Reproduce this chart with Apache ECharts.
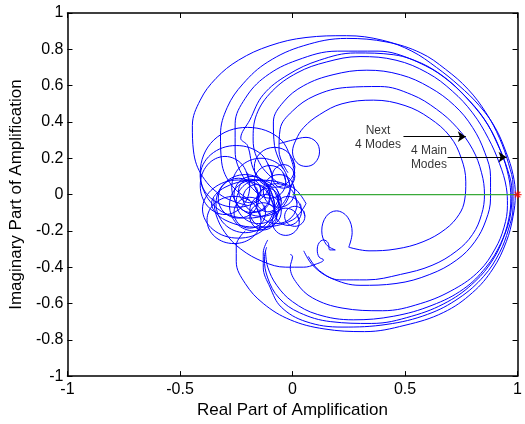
<!DOCTYPE html>
<html><head><meta charset="utf-8">
<script src="https://cdn.jsdelivr.net/npm/echarts/dist/echarts.min.js"></script>
<style>html,body{margin:0;padding:0;background:#fff}#c{width:525px;height:424px}</style>
</head><body><div id="c"></div>
<script>
// axis ranges
const xRange = [-1, 1, 0.5];
const yRange = [-1, 1, 0.2];

// big loops (real, imag)
const L1 = [[-0.20,-0.06],[-0.31,-0.01],[-0.40,0.10],[-0.44,0.24],[-0.445,0.38],[-0.41,0.52],[-0.34,0.64],[-0.24,0.74],[-0.10,0.82],[0.06,0.865],[0.24,0.875],[0.40,0.85],[0.53,0.79],[0.64,0.70],[0.74,0.60],[0.83,0.49],[0.90,0.37],[0.95,0.23],[0.98,0.11],[0.99,0.0],[0.98,-0.12],[0.95,-0.26],[0.89,-0.41],[0.80,-0.54],[0.67,-0.65],[0.50,-0.72],[0.32,-0.755],[0.14,-0.74],[-0.01,-0.69],[-0.13,-0.60],[-0.21,-0.49],[-0.25,-0.37],[-0.25,-0.28],[-0.21,-0.2]];
const L2 = [[-0.19,-0.03],[-0.27,0.05],[-0.315,0.18],[-0.32,0.33],[-0.29,0.48],[-0.22,0.61],[-0.11,0.73],[0.05,0.82],[0.24,0.86],[0.42,0.84],[0.57,0.78],[0.68,0.69],[0.78,0.58],[0.86,0.45],[0.92,0.31],[0.96,0.17],[0.98,0.05],[0.98,-0.07],[0.96,-0.19],[0.92,-0.32],[0.85,-0.45],[0.74,-0.57],[0.60,-0.66],[0.42,-0.715],[0.22,-0.73],[0.06,-0.70],[-0.05,-0.62],[-0.10,-0.51],[-0.13,-0.40],[-0.13,-0.32],[-0.11,-0.25]];
const L3 = [[-0.15,0.0],[-0.22,0.10],[-0.255,0.24],[-0.255,0.39],[-0.21,0.53],[-0.12,0.65],[0.02,0.74],[0.20,0.79],[0.38,0.79],[0.54,0.74],[0.66,0.66],[0.76,0.55],[0.85,0.42],[0.91,0.28],[0.955,0.14],[0.975,0.02],[0.97,-0.10],[0.94,-0.23],[0.89,-0.36],[0.81,-0.48],[0.69,-0.59],[0.53,-0.67],[0.35,-0.71],[0.17,-0.70],[0.03,-0.65],[-0.06,-0.57],[-0.11,-0.46],[-0.125,-0.35],[-0.115,-0.29]];
const L4 = [[-0.10,0.03],[-0.17,0.13],[-0.20,0.27],[-0.23,0.31],[-0.19,0.41],[-0.13,0.55],[-0.02,0.66],[0.12,0.74],[0.28,0.78],[0.45,0.77],[0.59,0.71],[0.70,0.62],[0.79,0.51],[0.87,0.38],[0.925,0.24],[0.96,0.10],[0.97,-0.02],[0.96,-0.14],[0.925,-0.27],[0.86,-0.40],[0.76,-0.52],[0.62,-0.61],[0.45,-0.67],[0.27,-0.69],[0.11,-0.66],[0.0,-0.59],[-0.07,-0.50],[-0.11,-0.40],[-0.12,-0.31]];
const L5 = [[-0.06,0.06],[-0.14,0.16],[-0.175,0.30],[-0.16,0.44],[-0.09,0.57],[0.02,0.67],[0.15,0.73],[0.30,0.76],[0.46,0.74],[0.60,0.67],[0.71,0.57],[0.80,0.45],[0.87,0.31],[0.92,0.17],[0.95,0.04],[0.955,-0.06],[0.94,-0.18],[0.90,-0.30],[0.83,-0.42],[0.72,-0.52],[0.57,-0.60],[0.40,-0.64],[0.22,-0.625],[0.09,-0.57],[0.02,-0.49],[-0.01,-0.40],[0.0,-0.34],[-0.01,-0.33]];
const L6 = [[-0.04,0.14],[-0.08,0.27],[-0.085,0.40],[-0.04,0.51],[0.05,0.60],[0.18,0.66],[0.33,0.685],[0.48,0.66],[0.61,0.59],[0.72,0.49],[0.80,0.37],[0.855,0.23],[0.88,0.10],[0.88,-0.02],[0.86,-0.14],[0.81,-0.26],[0.73,-0.36],[0.61,-0.44],[0.46,-0.49],[0.30,-0.50],[0.17,-0.46],[0.09,-0.39],[0.05,-0.31]];
const L7 = [[-0.02,0.12],[-0.06,0.24],[-0.055,0.36],[0.0,0.46],[0.10,0.545],[0.24,0.59],[0.39,0.595],[0.53,0.55],[0.64,0.47],[0.73,0.37],[0.80,0.25],[0.84,0.12],[0.853,0.0],[0.84,-0.11],[0.80,-0.22],[0.73,-0.31],[0.62,-0.39],[0.48,-0.44],[0.33,-0.47],[0.21,-0.47],[0.12,-0.42],[0.07,-0.34]];
const L8 = [[-0.06,0.28],[0.0,0.30],[0.06,0.315],[0.105,0.29],[0.12,0.235],[0.10,0.175],[0.06,0.155],[0.02,0.175],[0.0,0.235],[0.015,0.30],[0.05,0.37],[0.12,0.44],[0.22,0.50],[0.36,0.52],[0.50,0.49],[0.61,0.42],[0.70,0.32],[0.75,0.20],[0.77,0.07],[0.765,-0.03],[0.74,-0.11],[0.68,-0.19],[0.58,-0.26],[0.46,-0.30],[0.34,-0.31],[0.25,-0.29]];
const tail = [[0.25,-0.29],[0.265,-0.21],[0.245,-0.125],[0.195,-0.09],[0.15,-0.12],[0.13,-0.20],[0.15,-0.275],[0.19,-0.305],[0.166,-0.305],[0.158,-0.266],[0.138,-0.25],[0.118,-0.266],[0.11,-0.305],[0.118,-0.344],[0.138,-0.36],[0.10,-0.385],[0.05,-0.40],[-0.03,-0.40],[-0.13,-0.37],[-0.23,-0.30],[-0.30,-0.21],[-0.34,-0.11],[-0.35,-0.02]];

// cluster loops
const C1 = [[-0.05,-0.04],[-0.08,0.045],[-0.15,0.08],[-0.22,0.045],[-0.25,-0.04],[-0.22,-0.125],[-0.15,-0.16],[-0.08,-0.125],[-0.05,-0.04],[-0.07,0.03]];
const C2 = [[-0.10,0.0],[-0.123,0.07],[-0.18,0.10],[-0.237,0.07],[-0.26,0.0],[-0.237,-0.07],[-0.18,-0.10],[-0.123,-0.07],[-0.10,0.0],[-0.115,0.06]];
const C3 = [[-0.05,-0.09],[-0.07,-0.026],[-0.12,0.0],[-0.17,-0.026],[-0.19,-0.09],[-0.17,-0.154],[-0.12,-0.18],[-0.07,-0.154],[-0.05,-0.09],[-0.06,-0.04]];
const C4 = [[-0.08,-0.05],[-0.118,0.063],[-0.21,0.11],[-0.302,0.063],[-0.34,-0.05],[-0.302,-0.163],[-0.21,-0.21],[-0.118,-0.163],[-0.08,-0.05],[-0.1,0.03]];
const C5 = [[-0.03,0.07],[-0.05,0.134],[-0.10,0.16],[-0.15,0.134],[-0.17,0.07],[-0.15,0.006],[-0.10,-0.02],[-0.05,0.006],[-0.03,0.07],[-0.04,0.12]];
const C6 = [[0.01,0.10],[-0.005,0.146],[-0.04,0.165],[-0.075,0.146],[-0.09,0.10],[-0.075,0.054],[-0.04,0.035],[-0.005,0.054],[0.01,0.10],[0.005,0.13]];
const C7 = [[0.03,-0.15],[0.012,-0.097],[-0.03,-0.075],[-0.072,-0.097],[-0.09,-0.15],[-0.072,-0.203],[-0.03,-0.225],[0.012,-0.203],[0.03,-0.15],[0.02,-0.11]];
const C8 = [[0.055,-0.12],[0.042,-0.081],[0.01,-0.065],[-0.022,-0.081],[-0.035,-0.12],[-0.022,-0.159],[0.01,-0.175],[0.042,-0.159],[0.055,-0.12],[0.05,-0.09]];
const C9 = [[-0.01,0.04],[-0.048,0.153],[-0.14,0.20],[-0.232,0.153],[-0.27,0.04],[-0.232,-0.073],[-0.14,-0.12],[-0.048,-0.073],[-0.01,0.04],[-0.03,0.11]];
const C10 = [[-0.09,0.10],[-0.137,0.22],[-0.25,0.27],[-0.363,0.22],[-0.41,0.10],[-0.363,-0.02],[-0.25,-0.07],[-0.137,-0.02],[-0.09,0.10],[-0.11,0.17]];
const C11 = [[-0.08,-0.08],[-0.127,0.033],[-0.24,0.08],[-0.353,0.033],[-0.40,-0.08],[-0.353,-0.193],[-0.24,-0.24],[-0.127,-0.193],[-0.08,-0.08],[-0.1,-0.01]];
const C12 = [[0.02,-0.05],[-0.006,0.028],[-0.07,0.06],[-0.134,0.028],[-0.16,-0.05],[-0.134,-0.128],[-0.07,-0.16],[-0.006,-0.128],[0.02,-0.05],[0.01,0.0]];
const C13 = [[-0.10,-0.02],[-0.118,0.033],[-0.16,0.055],[-0.202,0.033],[-0.22,-0.02],[-0.202,-0.073],[-0.16,-0.095],[-0.118,-0.073],[-0.10,-0.02],[-0.105,0.01]];
const C14 = [[-0.12,-0.10],[-0.14,-0.04],[-0.19,-0.015],[-0.24,-0.04],[-0.26,-0.10],[-0.24,-0.16],[-0.19,-0.185],[-0.14,-0.16],[-0.12,-0.10],[-0.125,-0.06]];
const C15 = [[-0.06,-0.03],[-0.075,0.016],[-0.11,0.035],[-0.145,0.016],[-0.16,-0.03],[-0.145,-0.076],[-0.11,-0.095],[-0.075,-0.076],[-0.06,-0.03],[-0.065,0.0]];
const C16 = [[0.01,0.15],[-0.016,0.228],[-0.08,0.26],[-0.144,0.228],[-0.17,0.15],[-0.144,0.072],[-0.08,0.04],[-0.016,0.072],[0.01,0.15],[0.0,0.2]];
const C17 = [[-0.14,0.02],[-0.155,0.066],[-0.19,0.085],[-0.225,0.066],[-0.24,0.02],[-0.225,-0.026],[-0.19,-0.045],[-0.155,-0.026],[-0.14,0.02],[-0.145,0.05]];
const C18 = [[-0.07,-0.12],[-0.088,-0.067],[-0.13,-0.045],[-0.172,-0.067],[-0.19,-0.12],[-0.172,-0.173],[-0.13,-0.195],[-0.088,-0.173],[-0.07,-0.12],[-0.075,-0.09]];
const C19 = [[-0.15,-0.02],[-0.176,0.058],[-0.24,0.09],[-0.304,0.058],[-0.33,-0.02],[-0.304,-0.098],[-0.24,-0.13],[-0.176,-0.098],[-0.15,-0.02],[-0.16,0.04]];
const C20 = [[0.01,0.02],[-0.01,0.084],[-0.06,0.11],[-0.11,0.084],[-0.13,0.02],[-0.11,-0.044],[-0.06,-0.07],[-0.01,-0.044],[0.01,0.02],[0.0,0.06]];
const C21 = [[-0.06,-0.06],[-0.092,0.04],[-0.17,0.08],[-0.248,0.04],[-0.28,-0.06],[-0.248,-0.16],[-0.17,-0.20],[-0.092,-0.16],[-0.06,-0.06],[-0.07,0.0]];
const C22 = [[-0.19,0.05],[-0.222,0.163],[-0.30,0.21],[-0.378,0.163],[-0.41,0.05],[-0.378,-0.063],[-0.30,-0.11],[-0.222,-0.063],[-0.19,0.05],[-0.2,0.12]];
const C23 = [[0.04,-0.09],[0.022,-0.033],[-0.02,-0.01],[-0.062,-0.033],[-0.08,-0.09],[-0.062,-0.147],[-0.02,-0.17],[0.022,-0.147],[0.04,-0.09],[0.035,-0.05]];
const C24 = [[-0.14,-0.14],[-0.175,-0.048],[-0.26,-0.01],[-0.345,-0.048],[-0.38,-0.14],[-0.345,-0.232],[-0.26,-0.27],[-0.175,-0.232],[-0.14,-0.14],[-0.15,-0.08]];
const M1 = [[0.01,0.12],[-0.05,0.30],[-0.2,0.37],[-0.35,0.30],[-0.41,0.12],[-0.35,-0.06],[-0.2,-0.13],[-0.05,-0.06],[0.01,0.12]];
const M2 = [[0.06,-0.05],[0.0,0.04],[-0.15,0.08],[-0.30,0.04],[-0.36,-0.05],[-0.30,-0.14],[-0.15,-0.18],[0.0,-0.14],[0.06,-0.05]];

const refLine = [[0,0],[1,0]];
const startPoint = [[1,0]];
const arrows = [[[0.493,0.319],[0.77,0.319]],[[0.689,0.206],[0.951,0.206]]];
const notes = [[0.38,0.311,'Next\n4 Modes'],[0.606,0.202,'4 Main\nModes']];

const curves = [L1,L2,L3,L4,L5,L6,L7,L8,tail,C1,C2,C3,C4,C5,C6,C7,C8,C9,C10,C11,C12,C13,C14,C15,C16,C17,C18,C19,C20,C21,C22,C23,C24,M1,M2];

const FONT = 'Liberation Sans, Arial, Helvetica, sans-serif';
const chart = echarts.init(document.getElementById('c'), null, {renderer:'canvas'});
const series = curves.map(d => ({
  type:'line', data:d, smooth:0.38, symbol:'none', silent:true,
  lineStyle:{color:'#0000ff', width:1}, z:2
}));
series.push({type:'line', data:refLine, symbol:'none', lineStyle:{color:'#3aaa3a', width:1.3}, z:3});
series.push({type:'scatter', data:startPoint, symbol:'path://M0,-5L0,5M-5,0L5,0M-3.5,-3.5L3.5,3.5M-3.5,3.5L3.5,-3.5', symbolSize:8,
  itemStyle:{color:'none', borderColor:'#ff0000', borderWidth:1.2}, z:4});
series.push({type:'lines', coordinateSystem:'cartesian2d', symbol:['none','arrow'], symbolSize:[0,8],
  lineStyle:{color:'#000', width:1, opacity:1}, data: arrows.map(c => ({coords:c})), z:5});
series.push({type:'scatter', data:notes, symbolSize:1, itemStyle:{color:'rgba(0,0,0,0)'},
  label:{show:true, position:'inside', formatter:p=>p.data[2], fontFamily:FONT, fontSize:12, lineHeight:14, color:'#000', align:'center'}, z:6});

const axCommon = {axisLine:{show:true, onZero:false, lineStyle:{color:'#000', width:1.5}}, axisTick:{show:true, inside:true, length:5, lineStyle:{color:'#000', width:1}}, splitLine:{show:false}};
chart.setOption({
  animation:false,
  backgroundColor:'#fff',
  grid:{left:65, right:1, top:13, bottom:45},
  xAxis:[
    Object.assign({type:'value', min:xRange[0], max:xRange[1], interval:xRange[2], position:'bottom',
      axisLabel:{fontFamily:FONT, fontSize:16, color:'#000', margin:5},
      name:'Real Part of Amplification', nameLocation:'middle', nameGap:23, nameTextStyle:{fontFamily:FONT, fontSize:17, color:'#000'}}, axCommon),
    Object.assign({type:'value', min:xRange[0], max:xRange[1], interval:xRange[2], position:'top', axisLabel:{show:false}}, axCommon)
  ],
  yAxis:[
    Object.assign({type:'value', min:yRange[0], max:yRange[1], interval:yRange[2], position:'left',
      axisLabel:{fontFamily:FONT, fontSize:16, color:'#000', margin:4},
      name:'Imaginary Part of Amplification', nameLocation:'middle', nameGap:38, nameTextStyle:{fontFamily:FONT, fontSize:17, color:'#000'}}, axCommon),
    Object.assign({type:'value', min:yRange[0], max:yRange[1], interval:yRange[2], position:'right', axisLabel:{show:false}}, axCommon)
  ],
  series: series
});
</script>
</body></html>
